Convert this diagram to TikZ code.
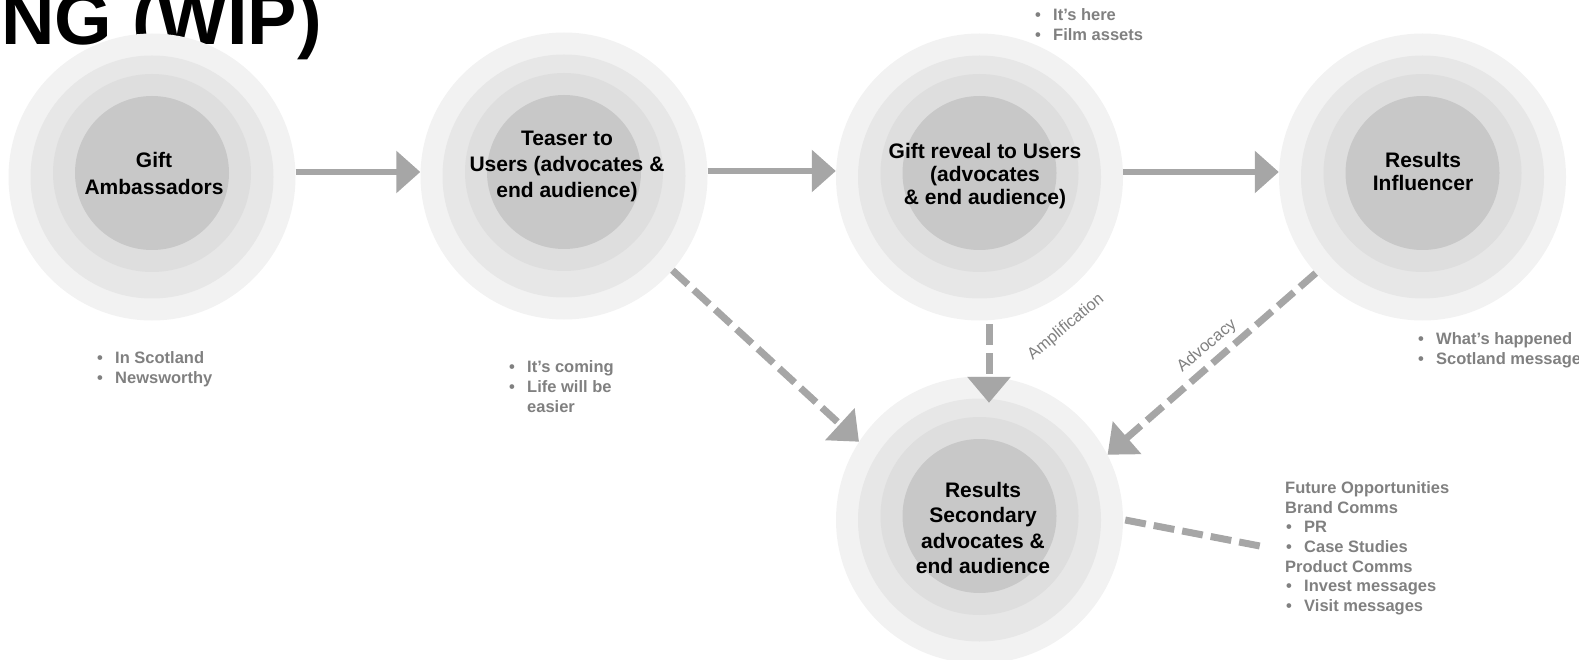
\documentclass[tikz,border=0pt]{standalone}
\usepackage{fontspec}
\setmainfont{Liberation Sans}
\usetikzlibrary{arrows.meta,calc}

\definecolor{ringA}{HTML}{F2F2F2}
\definecolor{ringB}{HTML}{E7E7E7}
\definecolor{ringC}{HTML}{DEDEDE}
\definecolor{ringD}{HTML}{C8C8C8}
\definecolor{linkgray}{HTML}{A6A6A6}
\definecolor{notegray}{HTML}{808080}

% bullet with hanging indent
\newcommand\bul{\makebox[18pt][l]{•}}
\newcommand\ind{\hspace*{18pt}}

% four concentric discs forming one stage; #1 = name of the outer disc
\newcommand\stagerings[3]{%
  \node[ring, minimum size=287pt, fill=ringA] (#1) at (#2,#3) {};
  \node[ring, minimum size=243pt, fill=ringB] (#1b) at (#2,#3) {};
  \node[ring, minimum size=198pt, fill=ringC] (#1c) at (#2,#3-4) {};
  \node[ring, minimum size=154pt, fill=ringD] (#1d) at (#2,#3-4) {};
}

\tikzset{
  ring/.style={circle, inner sep=0pt, draw=none},
  hub/.style={align=center, inner sep=0pt, font=\fontsize{21}{#1}\selectfont\bfseries},
  % multi-line notes are placed by the baseline of their last line
  note/.style={align=left, anchor=base west, inner sep=0pt, text=notegray,
               font=\fontsize{16.5}{19.7}\selectfont\bfseries},
  tag/.style={text=notegray, inner sep=0pt, rotate=40, font=\fontsize{16.5}{19}\selectfont},
  solidlink/.style={draw=linkgray, line width=6pt, -{Triangle[width=41pt,length=24pt]}},
  dashlink/.style={draw=linkgray, line width=7pt, dash pattern=on 21pt off 8pt},
  dasharrow/.style={dashlink, -{Triangle[width=42pt,length=26pt]}},
}

\begin{document}
\begin{tikzpicture}[x=1pt, y=-1pt]
\useasboundingbox (0,0) rectangle (1579,660);
\clip (0,0) rectangle (1579,660);

% title, running off the top-left edge
\node[anchor=base east, inner sep=0pt, font=\fontsize{74}{80}\selectfont\bfseries] (title) at (322,45) {NG (WIP)};

% stages
\stagerings{c1}{152}{177}
\stagerings{c2}{564}{176}
\stagerings{c3}{979.5}{177}
\stagerings{c4}{1422.5}{177}
\stagerings{c5}{979.5}{520}

\node[hub=27] (t1) at (154,173.5) {Gift\\Ambassadors};
\node[hub=26] (t2) at (567,166) {Teaser to\\Users (advocates \&\\end audience)};
\node[hub=23] (t3) at (985,176) {Gift reveal to Users\\(advocates\\\& end audience)};
\node[hub=23] (t4) at (1423,171.5) {Results\\Influencer};
\node[hub=25.3] (t5) at (983,528) {Results\\Secondary\\advocates \&\\end audience};

% notes beside each stage
\node[note] (n1) at (97,383.5) {\bul In Scotland\\\bul Newsworthy};
\node[note] (n2) at (509,412) {\bul It’s coming\\\bul Life will be\\\ind easier};
\node[note] (n3) at (1035,40.5) {\bul It’s here\\\bul Film assets};
\node[note] (n4) at (1418,364.5) {\bul What’s happened\\\bul Scotland message};
\node[note] (n5) at (1285,611.5) {Future Opportunities\\Brand Comms\\
  \hspace*{1pt}\bul PR\\\hspace*{1pt}\bul Case Studies\\Product Comms\\
  \hspace*{1pt}\bul Invest messages\\\hspace*{1pt}\bul Visit messages};

% main flow, level with the stage centres
\draw[solidlink] (c1.2.8) -- (c1.2.8 -| c2.west);
\draw[solidlink] (c2.2.5) -- (c2.2.5 -| c3.west);
\draw[solidlink] (c3.2.8) -- (c3.2.8 -| c4.west);

% feeds into the secondary audience
\draw[dasharrow] (c2.-41) -- (c5.147.5);
\draw[dasharrow] ([shift={(9.5,3.5)}]c3.south) -- ([shift={(9.5,26.5)}]c5.north);
\draw[dasharrow] (c4.222) -- (c5.27);

\coordinate (futend) at (1265,547);
\draw[dashlink] ([xshift=2pt]c5.east) -- (futend);

\node[tag] (amp) at (1066,327) {Amplification};
\node[tag] (adv) at (1207,346) {Advocacy};
\end{tikzpicture}
\end{document}
